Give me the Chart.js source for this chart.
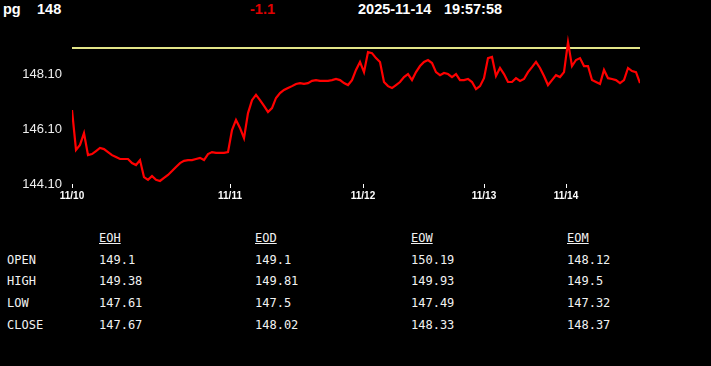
<!DOCTYPE html>
<html>
<head>
<meta charset="utf-8">
<script src="https://cdn.jsdelivr.net/npm/chart.js@4/dist/chart.umd.min.js"></script>
<style>
    html, body { margin: 0; padding: 0; background: #000; width: 711px; height: 366px; overflow: hidden; }
    .hd { position: absolute; top: 2px; font: bold 14.5px "Liberation Sans", Arial, sans-serif; line-height: 1; color: #fff; white-space: nowrap; }
    #chartBox { position: absolute; left: 0; top: 0; width: 711px; height: 210px; }
    .tb { position: absolute; font: 12px "DejaVu Sans Mono", monospace; line-height: 1; color: #f2f2f2; white-space: nowrap; }
    .tb.head { text-decoration: underline; }
</style>
</head>
<body>
<div class="hd" style="left:3px">pg</div>
<div class="hd" style="left:37px">148</div>
<div class="hd" style="left:250px;color:#e00000">-1.1</div>
<div class="hd" style="left:358px">2025-11-14</div>
<div class="hd" style="left:444px">19:57:58</div>

<div id="chartBox"><canvas id="priceChart" width="711" height="210"></canvas></div>
<div id="table"></div>

<script>
// price samples (one every few minutes), 11/10 -> 11/14
const prices = [
    146.79, 145.34, 145.52, 145.95, 145.15, 145.19, 145.30, 145.41, 145.37, 145.26,
    145.15, 145.08, 145.01, 145.01, 145.01, 144.86, 144.79, 144.97, 144.35, 144.25,
    144.39, 144.25, 144.21, 144.32, 144.43, 144.57, 144.72, 144.86, 144.94, 144.97,
    144.97, 145.01, 145.05, 144.97, 145.19, 145.26, 145.23, 145.23, 145.23, 145.26,
    146.06, 146.43, 146.14, 145.77, 146.68, 147.15, 147.34, 147.15, 146.94, 146.72,
    146.86, 147.23, 147.41, 147.52, 147.59, 147.66, 147.74, 147.77, 147.74, 147.77,
    147.85, 147.88, 147.85, 147.85, 147.85, 147.88, 147.92, 147.88, 147.77, 147.70,
    147.88, 148.25, 148.54, 148.17, 148.90, 148.86, 148.68, 148.54, 147.81, 147.66,
    147.59, 147.70, 147.81, 147.99, 148.10, 147.88, 148.17, 148.39, 148.54, 148.61,
    148.50, 148.17, 148.06, 148.14, 148.10, 147.99, 148.10, 147.88, 147.88, 147.92,
    147.81, 147.55, 147.66, 147.95, 148.68, 148.72, 148.03, 148.32, 148.10, 147.81,
    147.81, 147.95, 147.85, 147.92, 148.17, 148.35, 148.54, 148.32, 148.03, 147.70,
    147.88, 148.06, 147.99, 148.17, 149.26, 148.39, 148.61, 148.68, 148.39, 148.39,
    147.88, 147.81, 147.74, 148.25, 147.95, 147.92, 147.88, 147.77, 147.88, 148.32,
    148.21, 148.17, 147.77
];
const refLevel = 149.05;

// day boundaries, as positions in the sample list
const dayTicks = [0, 39.5, 72.75, 103, 123.5];
const dayLabels = ['11/10', '11/11', '11/12', '11/13', '11/14'];

const yTicks = [144.10, 146.10, 148.10];
const yMin = 144.10;
const yMax = 149.52;

// summary table
const rowNames = ['OPEN', 'HIGH', 'LOW', 'CLOSE'];
const colNames = ['EOH', 'EOD', 'EOW', 'EOM'];
const eoh = ['149.1', '149.38', '147.61', '147.67'];
const eod = ['149.1', '149.81', '147.5', '148.02'];
const eow = ['150.19', '149.93', '147.49', '148.33'];
const eom = ['148.12', '149.5', '147.32', '148.37'];

document.addEventListener('DOMContentLoaded', () => {

    const ctx = document.getElementById('priceChart').getContext('2d');

    new Chart(ctx, {
        type: 'line',
        data: {
            datasets: [{
                label: 'price',
                data: prices.map((v, i) => ({ x: i, y: v })),
                borderColor: '#ff0000',
                borderWidth: 2.2,
                pointRadius: 0,
                tension: 0
            }, {
                label: 'ref',
                data: [{ x: 0, y: refLevel }, { x: prices.length - 1, y: refLevel }],
                borderColor: '#e2e488',
                borderWidth: 2,
                pointRadius: 0
            }]
        },
        options: {
            responsive: false,
            animation: false,
            layout: { padding: { top: 35, right: 71, left: 0, bottom: 0 } },
            scales: {
                x: {
                    type: 'linear',
                    min: 0,
                    max: prices.length - 1,
                    afterBuildTicks: scale => { scale.ticks = dayTicks.map(v => ({ value: v })); },
                    afterFit: scale => { scale.height = 26; },
                    ticks: {
                        autoSkip: false,
                        maxRotation: 0,
                        padding: 2,
                        color: '#fff',
                        font: { family: 'Liberation Sans, Arial, sans-serif', size: 10, weight: 'bold' },
                        callback: (val, idx) => dayLabels[idx]
                    },
                    grid: { display: true, drawOnChartArea: false, color: '#fff', tickLength: 4 },
                    border: { display: false }
                },
                y: {
                    min: yMin,
                    max: yMax,
                    afterBuildTicks: scale => { scale.ticks = yTicks.map(v => ({ value: v })); },
                    afterFit: scale => { scale.width = 72; },
                    ticks: {
                        padding: 10,
                        color: '#eee',
                        font: { family: 'Liberation Sans, Arial, sans-serif', size: 13 },
                        callback: v => v.toFixed(2)
                    },
                    grid: { display: false, drawTicks: false },
                    border: { display: false }
                }
            },
            plugins: {
                legend: { display: false },
                tooltip: { enabled: false }
            }
        }
    });

    // table below the chart
    const table = document.getElementById('table');
    const colX = [99, 255, 411, 567];
    const rowTop = [254, 275, 297, 319];
    const cols = [eoh, eod, eow, eom];
    let html = '';
    colNames.forEach((name, c) => {
        html += `<div class="tb head" style="left:${colX[c]}px;top:232px">${name}</div>`;
    });
    rowNames.forEach((name, r) => {
        html += `<div class="tb" style="left:7px;top:${rowTop[r]}px">${name}</div>`;
        cols.forEach((col, c) => {
            html += `<div class="tb" style="left:${colX[c]}px;top:${rowTop[r]}px">${col[r]}</div>`;
        });
    });
    table.innerHTML = html;
});
</script>
</body>
</html>
